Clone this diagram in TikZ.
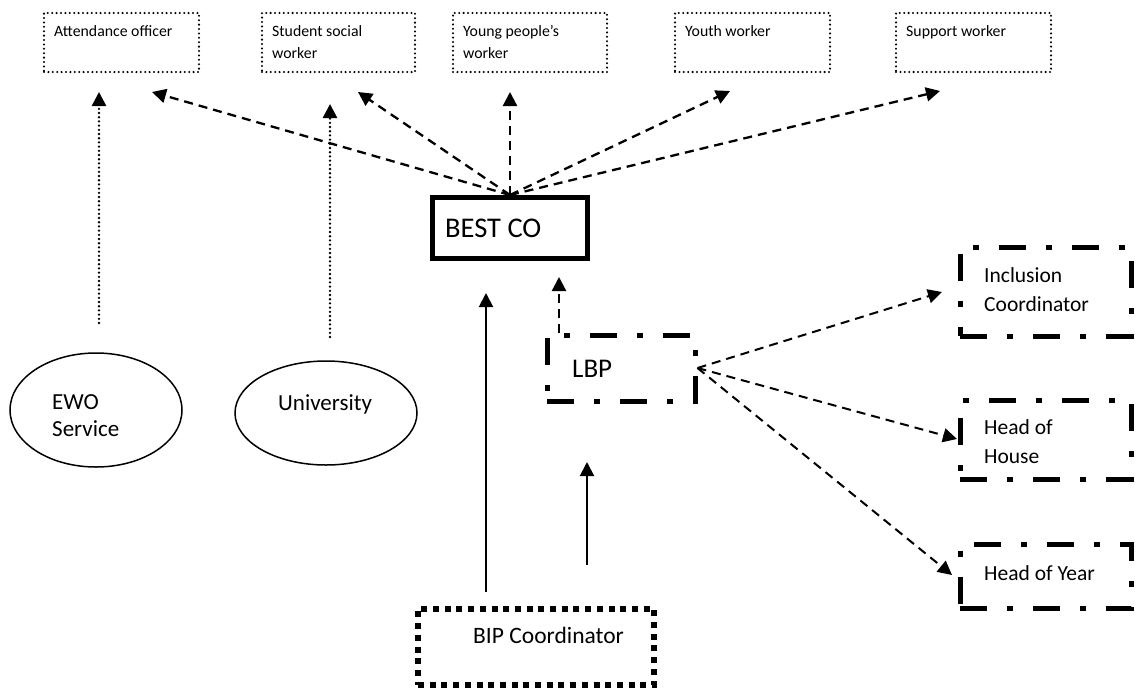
\documentclass[tikz,border=0pt]{standalone}
\usepackage{fontspec}
\setmainfont{Carlito}
\usetikzlibrary{arrows.meta,shapes.geometric}
\newcommand\myfs[2]{\fontsize{#1}{#2}\selectfont}
\begin{document}
\begin{tikzpicture}[x=1pt,y=-1pt,
  topbox/.style={draw, rectangle, line width=2.3pt, line cap=round, dash pattern=on 0pt off 4.4pt, minimum height=59pt, inner sep=0pt},
  thickbox/.style={draw, rectangle, line width=5pt, inner sep=0pt},
  dashdotbox/.style={draw, rectangle, line width=5pt, dash pattern=on 27pt off 20pt on 6pt off 20pt, inner sep=0pt},
  bipbox/.style={draw, rectangle, line width=6pt, dash pattern=on 6pt off 5.7pt, inner sep=0pt},
  oval/.style={draw, ellipse, line width=1.5pt, inner sep=0pt},
  toptext/.style={anchor=north west, inner sep=0pt, align=left, font=\myfs{15.8}{22.5}},
  tip/.style={-{Triangle[length=14pt,width=14pt]}},
  dashconn/.style={tip, line width=2.3pt, dash pattern=on 9pt off 6pt},
  solidconn/.style={tip, line width=2pt},
  dotconn/.style={tip, line width=2.6pt, line cap=round, dash pattern=on 0pt off 4.2pt}
]
\useasboundingbox (0,0) rectangle (1141,689);

% top boxes
\node[topbox, minimum width=155pt] (att) at (121.5,42.5) {};
\node[topbox, minimum width=153pt] (stu) at (338.5,42.5) {};
\node[topbox, minimum width=154pt] (yng) at (530,42.5) {};
\node[topbox, minimum width=155pt] (yth) at (752.5,42.5) {};
\node[topbox, minimum width=155pt] (sup) at (973.5,42.5) {};
\node[toptext] (attT) at (54,20.5) {\strut Attendance officer};
\node[toptext] (stuT) at (272,20.5) {\strut Student social\\\strut worker};
\node[toptext] (yngT) at (463,20.5) {\strut Young people’s\\\strut worker};
\node[toptext] (ythT) at (685,20.5) {\strut Youth worker};
\node[toptext] (supT) at (906,20.5) {\strut Support worker};

% BEST CO
\node[thickbox, minimum width=155pt, minimum height=61pt] (best) at (510,228) {};
\node[anchor=base west, inner sep=0pt, font=\myfs{28.5}{34}] (bestT) at (445,237) {BEST CO};

% LBP
\node[dashdotbox, minimum width=148pt, minimum height=66pt] (lbp) at (621,368) {};
\node[anchor=base west, inner sep=0pt, font=\myfs{27}{32}] (lbpT) at (572,377) {LBP};

% right boxes
\node[dashdotbox, minimum width=171pt, minimum height=89pt] (incl) at (1045.5,291.5) {};
\node[dashdotbox, minimum width=171pt, minimum height=78.5pt] (hoh) at (1045.5,439.75) {};
\node[dashdotbox, minimum width=171pt, minimum height=64pt] (hoy) at (1045.5,576.5) {};
\node[anchor=north west, inner sep=0pt, align=left, font=\myfs{21.5}{29.5}] (inclT) at (984,261.35) {\strut Inclusion\\\strut Coordinator};
\node[anchor=north west, inner sep=0pt, align=left, font=\myfs{21.5}{29.5}] (hohT) at (984,413.35) {\strut Head of\\\strut House};
\node[anchor=base west, inner sep=0pt, font=\myfs{21.5}{29.5}] (hoyT) at (984,580) {Head of Year};

% BIP
\node[bipbox, minimum width=236pt, minimum height=75.5pt] (bip) at (536,646.75) {};
\node[anchor=base west, inner sep=0pt, font=\myfs{23.5}{28}] (bipT) at (473,643) {BIP Coordinator};

% ellipses
\node[oval, minimum width=172pt, minimum height=114pt] (ewo) at (96,410) {};
\node[oval, minimum width=182pt, minimum height=104pt] (uni) at (326,413) {};
\node[anchor=north west, inner sep=0pt, align=left, font=\myfs{23}{27}] (ewoT) at (52,390.1) {\strut EWO\\\strut Service};
\node[anchor=base west, inner sep=0pt, font=\myfs{23}{27}] (uniT) at (278,410) {University};

% free-end coordinates
\coordinate (tAtt) at (152,92);
\coordinate (tStu) at (358,92);
\coordinate (tYng) at (510,92);
\coordinate (tYth) at (730,91);
\coordinate (tSup) at (940,91);
\coordinate (ewoS) at (99,323);
\coordinate (ewoE) at (99,92);
\coordinate (uniS) at (330,337);
\coordinate (uniE) at (330,104);
\coordinate (bipA) at (486,592);
\coordinate (bestA) at (486,293);
\coordinate (bipB) at (587,565);
\coordinate (lbpB) at (587,462);
\coordinate (lbpA) at (559,333);
\coordinate (bestB) at (559,277);
\coordinate (tIncl) at (942,292);
\coordinate (tHoh) at (957,439);
\coordinate (tHoy) at (952,575);

% connectors
\draw[dashconn] (best.north) -- (tAtt);
\draw[dashconn] (best.north) -- (tStu);
\draw[dashconn] (best.north) -- (tYng);
\draw[dashconn] (best.north) -- (tYth);
\draw[dashconn] (best.north) -- (tSup);
\draw[dotconn] (ewoS) -- (ewoE);
\draw[dotconn] (uniS) -- (uniE);
\draw[solidconn] (bipA) -- (bestA);
\draw[solidconn] (bipB) -- (lbpB);
\draw[dashconn] (lbpA) -- (bestB);
\draw[dashconn, line width=2pt] (lbp.east) -- (tIncl);
\draw[dashconn, line width=2pt] (lbp.east) -- (tHoh);
\draw[dashconn, line width=2pt] (lbp.east) -- (tHoy);
\end{tikzpicture}
\end{document}
